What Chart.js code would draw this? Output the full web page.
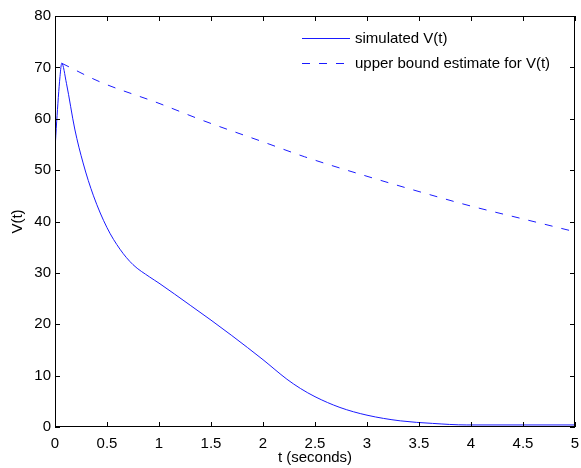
<!DOCTYPE html>
<html>
<head>
<meta charset="utf-8">
<script src="https://cdn.jsdelivr.net/npm/chart.js@4/dist/chart.umd.min.js"></script>
<style>
  html, body { margin:0; padding:0; background:#fff; }
  #wrap { width:581px; height:468px; }
</style>
</head>
<body>
<div id="wrap"><canvas id="c" width="581" height="468"></canvas></div>
<script>
// simulated V(t)
const tSim = [0, 0.016, 0.048, 0.065, 0.11, 0.19, 0.27, 0.37, 0.5, 0.625, 0.75, 0.91, 1.0, 1.3, 1.5, 1.7, 2.0, 2.23, 2.36, 2.5, 2.74, 3.0, 3.32, 3.63, 3.96, 4.5, 5.0];
const vSim = [54, 59.4, 68.2, 70.8, 66.9, 58.0, 51.4, 45.0, 38.8, 34.6, 31.6, 29.2, 28.0, 23.7, 20.8, 17.8, 13.1, 9.3, 7.5, 5.9, 3.8, 2.3, 1.2, 0.7, 0.4, 0.4, 0.4];

// upper bound estimate
const tBound = [0.065, 0.43, 1.0, 1.43, 2.0, 2.4, 3.0, 3.73, 4.0, 4.5, 5.0];
const vBound = [70.8, 67.2, 63.0, 59.6, 55.5, 52.6, 48.8, 44.5, 43.0, 40.5, 38.0];

const seriesNames = ['simulated V(t)', 'upper bound estimate for V(t)'];
const xTitle = 't (seconds)';
const yTitle = 'V(t)';

const BLUE = '#1a1aff';
const FONT = '"Liberation Sans", Arial, Helvetica, sans-serif';
const FS = 15;

function pts(xs, ys){ return xs.map((x,i) => ({x, y: ys[i]})); }

// matlab-ish box with inward ticks on all sides + legend without frame
const matlabBox = {
  id: 'matlabBox',
  afterDraw(chart){
    const {ctx, chartArea: a, scales} = chart;
    const xs = scales.x, ys = scales.y;
    ctx.save();
    ctx.strokeStyle = '#000';
    ctx.lineWidth = 1;
    ctx.strokeRect(a.left + 0.5, a.top + 0.5, a.right - a.left - 1, a.bottom - a.top - 1);
    const tl = 5;
    ctx.beginPath();
    xs.ticks.forEach(t => {
      const px = Math.round(xs.getPixelForValue(t.value)) + 0.5;
      ctx.moveTo(px, a.bottom); ctx.lineTo(px, a.bottom - tl);
      ctx.moveTo(px, a.top); ctx.lineTo(px, a.top + tl);
    });
    ys.ticks.forEach(t => {
      const py = Math.round(ys.getPixelForValue(t.value)) + 0.5;
      ctx.moveTo(a.left, py); ctx.lineTo(a.left + tl, py);
      ctx.moveTo(a.right, py); ctx.lineTo(a.right - tl, py);
    });
    ctx.stroke();

    // legend
    const lx = 302, ly = 38, gap = 25;
    ctx.font = FS + 'px ' + FONT;
    ctx.textBaseline = 'middle';
    ctx.fillStyle = '#000';
    chart.data.datasets.forEach((ds, i) => {
      const y = ly + i * gap + 0.5;
      ctx.strokeStyle = ds.borderColor;
      ctx.setLineDash(ds.borderDash || []);
      ctx.beginPath(); ctx.moveTo(lx, y); ctx.lineTo(lx + 48, y); ctx.stroke();
      ctx.setLineDash([]);
      ctx.fillText(ds.label, lx + 53, y);
    });
    ctx.restore();
  }
};

new Chart(document.getElementById('c'), {
  type: 'line',
  data: {
    datasets: [
      { label: seriesNames[0], data: pts(tSim, vSim), borderColor: BLUE, borderWidth: 1, pointRadius: 0, cubicInterpolationMode: 'monotone' },
      { label: seriesNames[1], data: pts(tBound, vBound), borderColor: BLUE, borderWidth: 1, borderDash: [8, 9], pointRadius: 0, cubicInterpolationMode: 'monotone' }
    ]
  },
  options: {
    responsive: false,
    animation: false,
    layout: { padding: { top: 16, right: 6, left: 0, bottom: 0 } },
    plugins: { legend: { display: false }, tooltip: { enabled: false } },
    scales: {
      x: {
        type: 'linear', min: 0, max: 5,
        ticks: { stepSize: 0.5, color: '#000', font: { family: FONT, size: FS }, padding: 8, maxRotation: 0,
                 callback: v => String(v) },
        grid: { display: false, drawTicks: false },
        border: { display: false },
        title: { display: true, text: xTitle, color: '#000', font: { family: FONT, size: FS }, padding: { top: 0, bottom: 1 } },
        afterFit(s){ s.height = 41; s.paddingLeft = 0; s.paddingRight = 0; }
      },
      y: {
        min: 0, max: 80,
        ticks: { stepSize: 10, color: '#000', font: { family: FONT, size: FS }, padding: 4 },
        grid: { display: false, drawTicks: false },
        border: { display: false },
        title: { display: true, text: yTitle, color: '#000', font: { family: FONT, size: FS }, padding: { top: 9, bottom: 0 } },
        afterFit(s){ s.width = 55; s.paddingTop = 0; s.paddingBottom = 0; }
      }
    }
  },
  plugins: [matlabBox]
});
</script>
</body>
</html>
